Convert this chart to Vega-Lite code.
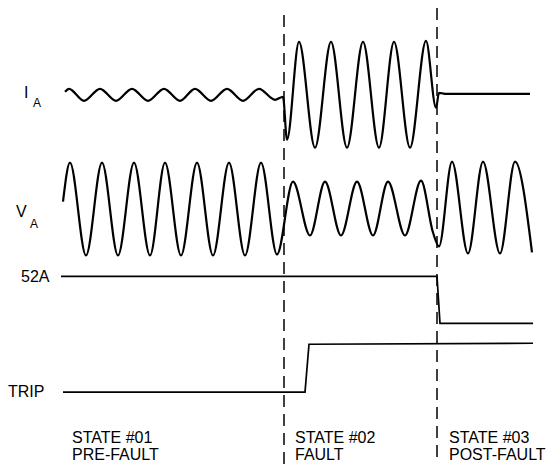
{
  "$schema": "https://vega.github.io/schema/vega-lite/v6.json",
  "width": 556,
  "height": 466,
  "padding": 0,
  "autosize": {"type": "fit", "contains": "padding"},
  "background": "white",
  "config": {"view": {"stroke": null}, "text": {"font": "Liberation Sans", "color": "black"}},
  "datasets": {
    "waves": [
      {"s": "IA", "t": 65, "v": 92}, {"s": "IA", "t": 69, "v": 89}, {"s": "IA", "t": 84, "v": 101}, {"s": "IA", "t": 100, "v": 89},
      {"s": "IA", "t": 116, "v": 101}, {"s": "IA", "t": 132, "v": 89}, {"s": "IA", "t": 148, "v": 101}, {"s": "IA", "t": 164, "v": 89},
      {"s": "IA", "t": 180, "v": 101}, {"s": "IA", "t": 195, "v": 89}, {"s": "IA", "t": 211, "v": 101}, {"s": "IA", "t": 227, "v": 89},
      {"s": "IA", "t": 243, "v": 101}, {"s": "IA", "t": 259, "v": 89}, {"s": "IA", "t": 275, "v": 100}, {"s": "IA", "t": 283, "v": 97},
      {"s": "IA", "t": 287, "v": 140}, {"s": "IA", "t": 299, "v": 42}, {"s": "IA", "t": 315, "v": 148}, {"s": "IA", "t": 331, "v": 42},
      {"s": "IA", "t": 347, "v": 148}, {"s": "IA", "t": 363, "v": 42}, {"s": "IA", "t": 379, "v": 148}, {"s": "IA", "t": 394, "v": 42},
      {"s": "IA", "t": 410, "v": 148}, {"s": "IA", "t": 426, "v": 41}, {"s": "IA", "t": 436, "v": 108}, {"s": "IA", "t": 439, "v": 93},
      {"s": "IA", "t": 445, "v": 94}, {"s": "IA", "t": 480, "v": 94}, {"s": "IA", "t": 530, "v": 94},
      {"s": "VA", "t": 63, "v": 202}, {"s": "VA", "t": 70, "v": 163}, {"s": "VA", "t": 86, "v": 256}, {"s": "VA", "t": 102, "v": 163},
      {"s": "VA", "t": 118, "v": 256}, {"s": "VA", "t": 134, "v": 163}, {"s": "VA", "t": 150, "v": 256}, {"s": "VA", "t": 165, "v": 163},
      {"s": "VA", "t": 181, "v": 256}, {"s": "VA", "t": 197, "v": 163}, {"s": "VA", "t": 213, "v": 256}, {"s": "VA", "t": 229, "v": 163},
      {"s": "VA", "t": 245, "v": 256}, {"s": "VA", "t": 261, "v": 163}, {"s": "VA", "t": 277, "v": 255}, {"s": "VA", "t": 293, "v": 182},
      {"s": "VA", "t": 310, "v": 236}, {"s": "VA", "t": 325, "v": 182}, {"s": "VA", "t": 341, "v": 236}, {"s": "VA", "t": 357, "v": 182},
      {"s": "VA", "t": 373, "v": 236}, {"s": "VA", "t": 388, "v": 182}, {"s": "VA", "t": 405, "v": 236}, {"s": "VA", "t": 421, "v": 181},
      {"s": "VA", "t": 433, "v": 233}, {"s": "VA", "t": 439, "v": 247}, {"s": "VA", "t": 452, "v": 162}, {"s": "VA", "t": 468, "v": 254},
      {"s": "VA", "t": 483, "v": 162}, {"s": "VA", "t": 500, "v": 254}, {"s": "VA", "t": 515, "v": 162}, {"s": "VA", "t": 532, "v": 253}
    ],
    "digital": [
      {"s": "52A", "t": 61, "v": 277}, {"s": "52A", "t": 437, "v": 277}, {"s": "52A", "t": 440, "v": 324}, {"s": "52A", "t": 533, "v": 324},
      {"s": "TRIP", "t": 63, "v": 393}, {"s": "TRIP", "t": 305, "v": 393}, {"s": "TRIP", "t": 309, "v": 345}, {"s": "TRIP", "t": 533, "v": 344}
    ],
    "markers": [
      {"t": 284, "v": 15, "v2": 466},
      {"t": 437, "v": 8, "v2": 460}
    ],
    "labels": [
      {"label": "I", "t": 24, "v": 98},
      {"label": "V", "t": 16, "v": 217},
      {"label": "52A", "t": 21, "v": 283},
      {"label": "TRIP", "t": 8, "v": 398}
    ],
    "states": [
      {"label": "STATE #01", "t": 72, "v": 444},
      {"label": "PRE-FAULT", "t": 72, "v": 461},
      {"label": "STATE #02", "t": 295, "v": 444},
      {"label": "FAULT", "t": 295, "v": 461},
      {"label": "STATE #03", "t": 449, "v": 444},
      {"label": "POST-FAULT", "t": 449, "v": 461}
    ],
    "subs": [
      {"label": "A", "t": 33, "v": 107},
      {"label": "A", "t": 30, "v": 228}
    ]
  },
  "layer": [
    {
      "data": {"name": "markers"},
      "mark": {"type": "rule", "color": "black", "strokeWidth": 1.5, "strokeDash": [12, 7]},
      "encoding": {
        "x": {"field": "t", "type": "quantitative", "scale": {"domain": [0, 556], "nice": false, "zero": false}, "axis": null},
        "y": {"field": "v", "type": "quantitative", "scale": {"domain": [0, 466], "nice": false, "zero": false, "reverse": true}, "axis": null},
        "y2": {"field": "v2"}
      }
    },
    {
      "data": {"name": "waves"},
      "mark": {"type": "line", "color": "black", "strokeWidth": 2.2, "interpolate": "monotone"},
      "encoding": {
        "x": {"field": "t", "type": "quantitative"},
        "y": {"field": "v", "type": "quantitative"},
        "detail": {"field": "s"}
      }
    },
    {
      "data": {"name": "digital"},
      "mark": {"type": "line", "color": "black", "strokeWidth": 1.7},
      "encoding": {
        "x": {"field": "t", "type": "quantitative"},
        "y": {"field": "v", "type": "quantitative"},
        "detail": {"field": "s"}
      }
    },
    {
      "data": {"name": "labels"},
      "mark": {"type": "text", "align": "left", "baseline": "alphabetic", "fontSize": 16},
      "encoding": {
        "x": {"field": "t", "type": "quantitative"},
        "y": {"field": "v", "type": "quantitative"},
        "text": {"field": "label"}
      }
    },
    {
      "data": {"name": "states"},
      "mark": {"type": "text", "align": "left", "baseline": "alphabetic", "fontSize": 16},
      "encoding": {
        "x": {"field": "t", "type": "quantitative"},
        "y": {"field": "v", "type": "quantitative"},
        "text": {"field": "label"}
      }
    },
    {
      "data": {"name": "subs"},
      "mark": {"type": "text", "align": "left", "baseline": "alphabetic", "fontSize": 12},
      "encoding": {
        "x": {"field": "t", "type": "quantitative"},
        "y": {"field": "v", "type": "quantitative"},
        "text": {"field": "label"}
      }
    }
  ]
}
